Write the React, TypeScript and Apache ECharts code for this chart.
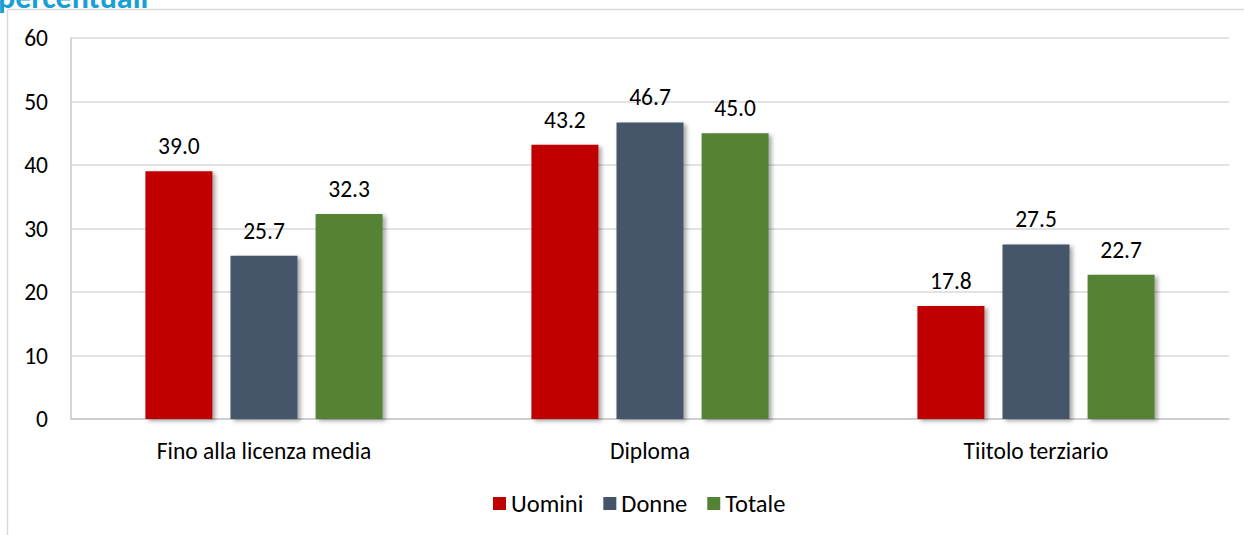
import React, { useEffect, useRef } from "react";
import * as echarts from "echarts";

const categories = ["Fino alla licenza media", "Diploma", "Tiitolo terziario"];
const uomini = [39.0, 43.2, 17.8];
const donne = [25.7, 46.7, 27.5];
const totale = [32.3, 45.0, 22.7];
const seriesNames = ["Uomini", "Donne", "Totale"];
const colors = ["#C00000", "#44546A", "#548235"];
const titleText = "percentuali";

const FONT = "Carlito, 'Open Sans', 'Noto Sans', sans-serif";
const FS = 23.5;

export default function App() {
  const ref = useRef<HTMLDivElement>(null);
  useEffect(() => {
    const chart = echarts.init(ref.current!, undefined, { renderer: "svg" });
    const data = [uomini, donne, totale];
    chart.setOption({
      animation: false,
      backgroundColor: "#ffffff",
      textStyle: { fontFamily: FONT },
      grid: { left: 71, right: 15, top: 38, bottom: 116, containLabel: false },
      graphic: [
        { type: "line", shape: { x1: 7.5, y1: 9.5, x2: 1244, y2: 9.5 }, style: { stroke: "#d9d9d9", lineWidth: 1.5 } },
        { type: "line", shape: { x1: 7.5, y1: 9.5, x2: 7.5, y2: 535 }, style: { stroke: "#d9d9d9", lineWidth: 1.5 } },
        {
          type: "text",
          x: -2,
          y: 13,
          z: -1,
          style: {
            text: titleText,
            fill: "#1A9FD4",
            font: `bold 32px ${FONT}`,
            verticalAlign: "bottom",
          },
        },
      ],
      legend: {
        bottom: 14,
        left: 488,
        itemWidth: 13,
        itemHeight: 13,
        itemGap: 20,
        icon: "rect",
        textStyle: { fontSize: 24.5, color: "#000", fontFamily: FONT },
        data: seriesNames,
      },
      xAxis: {
        type: "category",
        data: categories,
        axisLine: { lineStyle: { color: "#c8c8c8", width: 1.5 } },
        axisTick: { show: false },
        axisLabel: { fontSize: FS, color: "#000", margin: 20, fontFamily: FONT },
      },
      yAxis: {
        type: "value",
        min: 0,
        max: 60,
        interval: 10,
        axisLine: { show: true, lineStyle: { color: "#c8c8c8", width: 1.5 } },
        splitLine: { lineStyle: { color: "#d9d9d9", width: 1.5 } },
        axisLabel: { fontSize: FS, color: "#000", margin: 23, fontFamily: FONT },
      },
      series: seriesNames.map((name, i) => ({
        name,
        type: "bar",
        data: data[i],
        barWidth: 67,
        barGap: "27%",
        itemStyle: {
          color: colors[i],
          shadowColor: "rgba(0,0,0,0.35)",
          shadowBlur: 4,
          shadowOffsetX: 3,
          shadowOffsetY: 2,
        },
        label: {
          show: true,
          position: "top",
          distance: 13,
          fontSize: FS,
          color: "#000",
          fontFamily: FONT,
          formatter: (p: any) => Number(p.value).toFixed(1),
        },
      })),
    });
    return () => chart.dispose();
  }, []);
  return (
    <div
      ref={ref}
      style={{ position: "fixed", left: 0, top: 0, width: 1244, height: 535 }}
    />
  );
}
